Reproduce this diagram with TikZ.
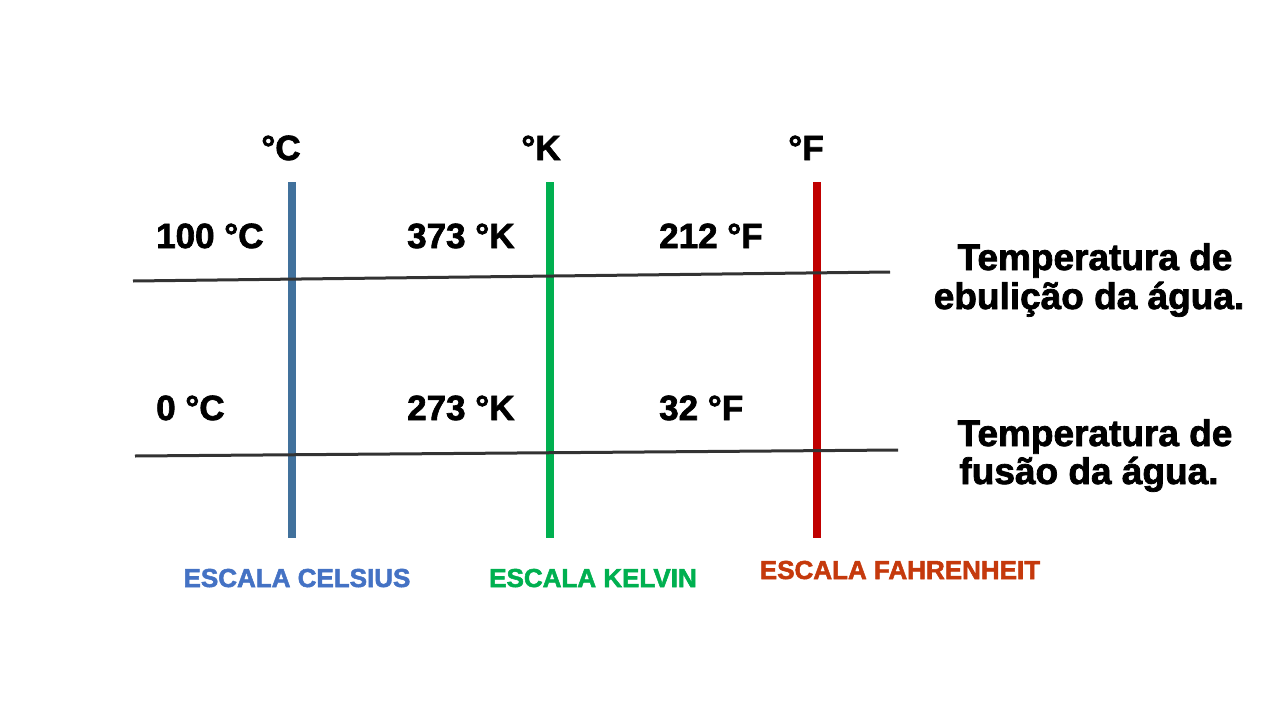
\documentclass[tikz,border=0pt]{standalone}
\usepackage{fontspec}
\setmainfont{Liberation Sans}[BoldFeatures={FakeBold=2}]
\definecolor{cblue}{HTML}{41719C}
\definecolor{cbluetxt}{HTML}{4472C4}
\definecolor{cgreen}{HTML}{00B050}
\definecolor{cred}{HTML}{C00000}
\definecolor{credtxt}{HTML}{C5390C}
\definecolor{cgray}{HTML}{333333}
\begin{document}
\begin{tikzpicture}[x=1pt,y=-1pt,
  scale line/.style={line width=8pt},
  level line/.style={line width=3pt,draw=cgray},
  val/.style={anchor=base west,inner sep=0pt,font=\fontsize{35}{40}\selectfont\bfseries},
  unit/.style={anchor=base,inner sep=0pt,font=\fontsize{35}{40}\selectfont\bfseries},
  note/.style={anchor=base,inner sep=0pt,font=\fontsize{37}{40}\selectfont\bfseries},
  scalename/.style={anchor=base,inner sep=0pt,font=\fontsize{26}{30}\selectfont\bfseries}]
\useasboundingbox[fill=white] (0,0) rectangle (1280,720);
% vertical scales
\coordinate (cT) at (292,182); \coordinate (cB) at (292,538);
\coordinate (kT) at (550,182); \coordinate (kB) at (550,538);
\coordinate (fT) at (817,182); \coordinate (fB) at (817,538);
\draw[scale line,cblue] (cT) -- (cB);
\draw[scale line,cgreen] (kT) -- (kB);
\draw[scale line,cred] (fT) -- (fB);
% horizontal reference lines
\coordinate (b1) at (133,281); \coordinate (b2) at (890,272);
\coordinate (m1) at (135,456); \coordinate (m2) at (898,450);
\draw[level line] (b1) -- (b2);
\draw[level line] (m1) -- (m2);
% unit headers
\node[unit] (uc) at (281,160) {°C};
\node[unit] (uk) at (541,160) {°K};
\node[unit] (uf) at (806,160) {°F};
% boiling values
\node[val] (c100) at (156,248) {100 °C};
\node[val] (k373) at (407,248) {373 °K};
\node[val] (f212) at (659,248) {212 °F};
% melting values
\node[val] (c0) at (156,420) {0 °C};
\node[val] (k273) at (407,420) {273 °K};
\node[val] (f32) at (659,420) {32 °F};
% notes
\node[note] (eb1) at (1095,270) {Temperatura de};
\node[note] (eb2) at (1089,309) {ebulição da água.};
\node[note] (fu1) at (1095,446) {Temperatura de};
\node[note] (fu2) at (1089,484) {fusão da água.};
% scale names
\node[scalename,text=cbluetxt] (nc) at (297,587) {ESCALA CELSIUS};
\node[scalename,text=cgreen] (nk) at (593,587) {ESCALA KELVIN};
\node[scalename,text=credtxt] (nf) at (900,579) {ESCALA FAHRENHEIT};
\end{tikzpicture}
\end{document}
